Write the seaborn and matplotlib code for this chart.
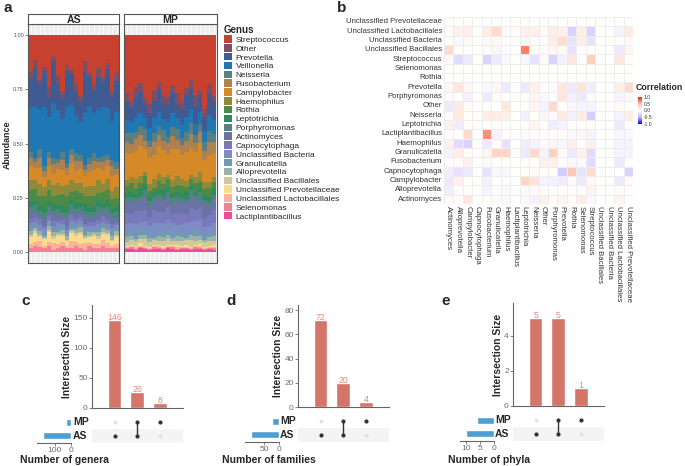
import numpy as np
import pandas as pd
import matplotlib
matplotlib.use("Agg")
import matplotlib.pyplot as plt
import seaborn as sns
from matplotlib.colors import LinearSegmentedColormap
from matplotlib.patches import Patch
from matplotlib.ticker import MultipleLocator

W, H = 685, 466

# ---- panel a: relative abundance per sample (%), 20 AS samples / 20 MP samples ----
genus_order = ["Streptococcus", "Other", "Prevotella", "Veillonella", "Neisseria",
               "Fusobacterium", "Campylobacter", "Haemophilus", "Rothia", "Leptotrichia",
               "Porphyromonas", "Actinomyces", "Capnocytophaga", "Unclassified Bacteria",
               "Granulicatella", "Alloprevotella", "Unclassified Bacillales",
               "Unclassified Prevotellaceae", "Unclassified Lactobacillales",
               "Selenomonas", "Lactiplantibacillus"]
genus_colors = ["#C8402E", "#7B4F66", "#3E5B93", "#1F77B4", "#5B7F7E", "#AE8150",
                "#D68A27", "#8D8B3B", "#4C8B47", "#2F8A5D", "#4F857F", "#6B72A6",
                "#7B79BD", "#7D8DC3", "#6F9AB2", "#98B3A7", "#CFC99C", "#FCDA8E",
                "#F8B39A", "#F28197", "#EC4B98"]

strep_as = [18, 12, 22, 15, 26, 10, 20, 28, 14, 17, 24, 30, 12, 19, 25, 16, 21, 13, 27, 18]
other_as = [3, 4, 2, 3, 5, 2, 4, 3, 3, 2, 4, 3, 5, 2, 3, 4, 2, 3, 3, 4]
prevo_as = [14, 18, 12, 16, 10, 20, 13, 11, 17, 15, 12, 10, 19, 14, 11, 16, 13, 18, 12, 15]
veill_as = [22, 25, 20, 28, 18, 26, 24, 17, 27, 21, 19, 16, 24, 26, 20, 23, 25, 22, 18, 24]
neiss_as = [3, 2, 4, 2, 3, 3, 2, 4, 2, 3, 4, 3, 2, 3, 4, 2, 3, 2, 3, 3]
fuso_as = [4, 3, 5, 3, 4, 4, 3, 5, 3, 4, 5, 4, 3, 4, 4, 3, 4, 3, 5, 3]
campy_as = [7, 6, 8, 5, 7, 6, 7, 8, 5, 8, 6, 7, 5, 7, 8, 6, 7, 6, 7, 6]
haemo_as = [5, 4, 6, 4, 5, 5, 6, 4, 5, 6, 4, 5, 4, 5, 5, 6, 4, 5, 4, 5]
rothia_as = [5, 6, 4, 5, 6, 4, 5, 6, 5, 4, 6, 5, 4, 6, 5, 4, 6, 5, 5, 4]
lepto_as = [3, 2, 3, 3, 2, 3, 2, 3, 3, 2, 3, 2, 3, 2, 3, 3, 2, 3, 2, 3]
porph_as = [3, 3, 2, 3, 3, 2, 3, 2, 3, 3, 2, 3, 3, 2, 3, 3, 2, 3, 2, 3]
actino_as = [3, 3, 2, 3, 2, 3, 3, 2, 3, 2, 3, 2, 3, 3, 2, 3, 2, 3, 3, 2]
capno_as = [2, 2, 3, 1, 2, 2, 1, 2, 2, 3, 2, 2, 1, 2, 2, 2, 3, 2, 2, 1]
ubact_as = [2, 1, 2, 2, 1, 2, 2, 1, 2, 2, 1, 2, 2, 1, 2, 2, 1, 2, 2, 1]
granu_as = [2, 2, 1, 2, 2, 1, 2, 2, 1, 2, 2, 1, 2, 2, 1, 2, 2, 1, 2, 2]
allo_as = [2, 1, 2, 1, 2, 2, 1, 2, 2, 1, 2, 2, 1, 2, 1, 2, 2, 1, 2, 2]
ubacil_as = [1, 1.5, 1, 0.5, 1, 1.5, 1, 1, 0.5, 1, 1.5, 1, 1, 0.5, 1, 1.5, 1, 1, 0.5, 1]
uprev_as = [3, 4, 2, 3, 5, 2, 4, 3, 2, 4, 3, 5, 2, 3, 4, 2, 3, 4, 2, 3]
ulacto_as = [2, 2, 3, 1, 2, 3, 2, 2, 1, 3, 2, 2, 3, 1, 2, 2, 3, 2, 1, 2]
selen_as = [2, 3, 2, 2, 3, 1, 2, 3, 2, 2, 3, 2, 1, 3, 2, 2, 3, 2, 2, 2]
lacti_as = [0.2, 0.1, 0.3, 0.1, 0.2, 0.1, 0.2, 0.3, 0.1, 0.2, 0.1, 0.2, 0.1, 0.3, 0.2, 0.1, 0.2, 0.1, 0.2, 0.1]

strep_mp = [26, 30, 24, 22, 28, 32, 25, 21, 27, 29, 23, 26, 31, 24, 20, 27, 25, 33, 22, 28]
other_mp = [4, 3, 5, 4, 3, 4, 5, 3, 4, 4, 3, 5, 4, 3, 4, 5, 3, 4, 4, 3]
prevo_mp = [8, 7, 9, 10, 6, 7, 8, 11, 7, 8, 9, 6, 7, 10, 9, 8, 7, 6, 10, 8]
veill_mp = [6, 5, 7, 6, 5, 6, 7, 6, 5, 7, 6, 5, 6, 7, 6, 5, 6, 5, 7, 6]
neiss_mp = [4, 5, 3, 4, 5, 3, 4, 4, 5, 3, 4, 5, 3, 4, 5, 4, 3, 4, 5, 4]
fuso_mp = [5, 4, 6, 5, 4, 5, 6, 5, 4, 5, 6, 4, 5, 5, 6, 4, 5, 4, 6, 5]
campy_mp = [12, 11, 13, 14, 10, 12, 11, 13, 12, 10, 14, 12, 11, 13, 12, 11, 13, 10, 12, 11]
haemo_mp = [3, 3, 4, 3, 2, 3, 4, 3, 3, 2, 3, 4, 3, 3, 2, 3, 4, 3, 3, 2]
rothia_mp = [3, 4, 3, 3, 4, 3, 2, 4, 3, 4, 3, 3, 4, 2, 3, 4, 3, 3, 4, 3]
lepto_mp = [2, 2, 2, 3, 2, 2, 2, 2, 3, 2, 2, 2, 2, 3, 2, 2, 2, 2, 2, 3]
porph_mp = [2, 2, 2, 2, 3, 2, 2, 2, 2, 2, 3, 2, 2, 2, 2, 2, 3, 2, 2, 2]
actino_mp = [5, 6, 4, 5, 6, 5, 4, 6, 5, 5, 4, 6, 5, 5, 6, 4, 5, 6, 4, 5]
capno_mp = [5, 4, 6, 5, 5, 4, 6, 5, 5, 6, 4, 5, 5, 4, 6, 5, 5, 4, 5, 6]
ubact_mp = [4, 4, 5, 4, 3, 4, 5, 4, 4, 5, 4, 3, 4, 5, 4, 4, 5, 4, 3, 4]
granu_mp = [2, 2, 2, 2, 3, 2, 2, 2, 2, 2, 3, 2, 2, 2, 2, 3, 2, 2, 2, 2]
allo_mp = [2, 2, 1, 2, 2, 2, 1, 2, 2, 2, 1, 2, 2, 1, 2, 2, 2, 1, 2, 2]
ubacil_mp = [2, 2, 2, 2, 3, 2, 2, 2, 2, 3, 2, 2, 2, 2, 3, 2, 2, 2, 2, 2]
uprev_mp = [0.5, 0.5, 0.5, 1, 0.5, 0.5, 0.5, 0.5, 1, 0.5, 0.5, 0.5, 0.5, 1, 0.5, 0.5, 0.5, 0.5, 0.5, 1]
ulacto_mp = [0.5, 0.5, 1, 0.5, 0.5, 0.5, 0.5, 1, 0.5, 0.5, 0.5, 1, 0.5, 0.5, 0.5, 0.5, 1, 0.5, 0.5, 0.5]
selen_mp = [0.5, 1, 0.5, 0.5, 0.5, 0.5, 1, 0.5, 0.5, 0.5, 1, 0.5, 0.5, 0.5, 0.5, 1, 0.5, 0.5, 0.5, 0.5]
lacti_mp = [1.2, 1.5, 1, 2, 1.3, 1, 1.5, 1.2, 1, 1.8, 1.2, 1, 1.5, 1.3, 1, 1.2, 1.5, 1, 1.3, 1.2]

as_lists = [strep_as, other_as, prevo_as, veill_as, neiss_as, fuso_as, campy_as, haemo_as,
            rothia_as, lepto_as, porph_as, actino_as, capno_as, ubact_as, granu_as, allo_as,
            ubacil_as, uprev_as, ulacto_as, selen_as, lacti_as]
mp_lists = [strep_mp, other_mp, prevo_mp, veill_mp, neiss_mp, fuso_mp, campy_mp, haemo_mp,
            rothia_mp, lepto_mp, porph_mp, actino_mp, capno_mp, ubact_mp, granu_mp, allo_mp,
            ubacil_mp, uprev_mp, ulacto_mp, selen_mp, lacti_mp]

# ---- panel b: correlation matrix (rows / columns alphabetical) ----
heat_genera = ["Actinomyces", "Alloprevotella", "Campylobacter", "Capnocytophaga",
               "Fusobacterium", "Granulicatella", "Haemophilus", "Lactiplantibacillus",
               "Leptotrichia", "Neisseria", "Other", "Porphyromonas", "Prevotella", "Rothia",
               "Selenomonas", "Streptococcus", "Unclassified Bacillales",
               "Unclassified Bacteria", "Unclassified Lactobacillales",
               "Unclassified Prevotellaceae"]
corr_actinomyces = [0.05, 0.02, 0.2, 0, 0.02, 0.05, -0.05, 0, -0.05, -0.1, 0.12, 0.03, 0.1, 0.03, 0.15, -0.05, 0, 0, 0.1, 0.03]
corr_alloprevotella = [-0.12, 0.02, 0.02, 0, -0.08, 0.02, -0.05, 0, 0.05, 0.05, 0.02, 0.02, 0.03, 0.02, 0.02, 0.1, 0, 0, 0.02, 0.02]
corr_campylobacter = [-0.15, 0.12, 0, 0, -0.1, 0, 0.02, 0, 0.35, 0.22, -0.08, -0.1, -0.12, -0.03, -0.15, 0.05, 0, 0, -0.15, 0.05]
corr_capnocytophaga = [-0.12, -0.2, -0.15, 0, -0.2, -0.05, -0.05, 0, 0.03, 0.02, 0.02, 0, -0.35, 0.45, -0.2, 0.3, 0, 0, 0, -0.3]
corr_fusobacterium = [0.02, 0.03, 0.12, 0, 0.05, 0.03, 0.03, 0, 0.02, 0.02, 0.12, 0.12, 0.02, -0.05, -0.05, -0.25, 0, 0, -0.15, 0.02]
corr_granulicatella = [-0.08, 0.15, 0.03, 0, 0.08, 0.35, 0.35, 0, -0.15, 0.3, -0.08, 0.4, 0.05, -0.15, 0.12, -0.25, 0, 0, -0.08, -0.08]
corr_haemophilus = [0.12, -0.25, -0.3, 0, -0.15, 0.02, -0.2, 0, -0.12, -0.08, 0.03, 0.08, -0.05, 0.12, 0.02, 0.12, 0, 0, -0.08, -0.08]
corr_lactiplantibacillus = [0.03, 0.02, 0.3, 0, 0.65, -0.08, 0.03, 0, 0.05, 0.02, 0.02, 0.03, 0.03, -0.05, 0.08, -0.08, 0, 0, -0.05, -0.05]
corr_leptotrichia = [0.12, -0.12, 0.03, 0, 0.02, 0.02, 0.02, 0, 0.03, 0.08, 0.03, -0.12, -0.08, 0.03, 0.02, 0.03, 0, 0, -0.15, 0.02]
corr_neisseria = [0.03, 0.18, 0.03, 0, 0.15, 0.15, 0.12, 0, -0.1, 0, 0.08, 0.03, 0.18, -0.1, 0.15, -0.35, 0, 0, -0.08, 0.15]
corr_other = [-0.15, 0.18, 0.05, 0, 0.03, 0, 0.2, 0, 0.03, 0.08, -0.08, 0.3, 0.02, -0.05, -0.08, -0.08, 0, 0, 0.05, 0.02]
corr_porphyromonas = [0.02, 0.02, -0.1, 0, -0.15, 0.05, 0.02, 0, 0.03, 0.08, -0.05, 0.02, 0.2, -0.1, -0.15, 0.05, 0, 0, -0.08, 0.05]
corr_prevotella = [0.08, 0.2, 0.08, 0, -0.05, 0.08, -0.15, 0, -0.15, 0.12, 0.03, -0.03, 0.2, -0.15, 0.22, -0.12, 0, 0, 0.15, 0.3]
corr_rothia = [0] * 20
corr_selenomonas = [0] * 20
corr_streptococcus = [0.05, -0.25, -0.15, 0, -0.3, -0.15, -0.05, 0, -0.05, -0.2, 0.05, -0.3, -0.1, 0.2, 0.02, 0.4, 0, 0, 0.2, 0.03]
corr_ubacillales = [0.3, 0.03, 0, 0, 0.02, 0.08, -0.03, 0, 0.7, 0.02, 0.03, 0.08, 0.05, -0.2, 0.03, 0.02, 0, 0, -0.15, 0.08]
corr_ubacteria = [0.03, -0.05, 0.05, 0, 0.05, 0.05, 0.02, 0, 0.08, 0.03, 0.03, 0.15, 0.28, -0.2, 0.15, -0.2, 0, 0, 0.03, 0.05]
corr_ulactobacillales = [0.02, 0.12, 0.12, 0, 0.15, 0.3, 0.05, 0, 0.12, 0.12, 0.05, 0.15, 0.12, -0.3, 0.15, -0.3, 0, 0, -0.08, 0.18]
corr_uprevotellaceae = [0] * 20

# ---- panels c-e: upset intersections (AS only, AS & MP, MP only) ----
combo_names = ["AS", "AS&MP", "MP"]
as_member = [1, 1, 0]
mp_member = [0, 1, 1]
set_names = ["MP", "AS"]
genera_inter = [146, 26, 8]
genera_sets = [34, 172]
families_inter = [72, 20, 4]
families_sets = [24, 92]
phyla_inter = [5, 5, 1]
phyla_sets = [6, 10]

sns.set_theme(style="white")
plt.rcParams["font.family"] = ["Liberation Sans", "DejaVu Sans"]

fig = plt.figure(figsize=(W / 100, H / 100), dpi=100)


def px_axes(x0, y0, x1, y1):
    return fig.add_axes([x0 / W, 1 - y1 / H, (x1 - x0) / W, (y1 - y0) / H])


def px_text(x, y, s, **kw):
    fig.text(x / W, 1 - y / H, s, **kw)


# ---------------- panel a ----------------
frames = []
for group, lists in [("AS", as_lists), ("MP", mp_lists)]:
    wide = pd.DataFrame(dict(zip(genus_order, lists)))
    wide = wide.div(wide.sum(axis=1), axis=0)
    wide["sample"] = range(len(wide))
    long = wide.melt(id_vars="sample", var_name="genus", value_name="abundance")
    long["group"] = group
    frames.append(long)
abund = pd.concat(frames, ignore_index=True)

for i, (group, x0, x1) in enumerate([("AS", 28, 119.3), ("MP", 124, 216.7)]):
    ax = px_axes(x0, 24.3, x1, 263)
    sub = abund[abund["group"] == group]
    n = sub["sample"].nunique()
    sns.histplot(data=sub, x="sample", weights="abundance", hue="genus",
                 hue_order=genus_order, palette=genus_colors, multiple="stack",
                 discrete=True, shrink=1, linewidth=0, alpha=1, legend=False, ax=ax)
    ax.set_facecolor("#EEEEEE")
    ax.set_xlim(-0.6, n - 0.4)
    ax.set_ylim(-0.05, 1.05)
    ax.set_xticks(range(n))
    ax.grid(axis="x", color="white", lw=0.6)
    ax.set_axisbelow(True)
    ax.tick_params(axis="x", length=0, labelbottom=False)
    ax.set_xlabel("")
    ax.set_ylabel("")
    for sp in ax.spines.values():
        sp.set_color("#555555")
        sp.set_linewidth(0.8)
    if i == 0:
        ax.set_yticks([0, 0.25, 0.5, 0.75, 1.0])
        ax.set_yticklabels(["0.00", "0.25", "0.50", "0.75", "1.00"])
        ax.tick_params(axis="y", labelsize=3.9, labelcolor="#4D4D4D", color="#555555",
                       length=2, width=0.5, pad=1, left=True)
    else:
        ax.tick_params(axis="y", left=False, labelleft=False)
    strip = px_axes(x0, 14, x1, 24.3)
    strip.set_facecolor("white")
    strip.set_xticks([])
    strip.set_yticks([])
    for sp in strip.spines.values():
        sp.set_color("#555555")
        sp.set_linewidth(0.8)
    strip.text(0.5, 0.45, group, ha="center", va="center", fontsize=7.6,
               fontweight="bold", transform=strip.transAxes)

px_text(7, 145, "Abundance", rotation=90, ha="center", va="center", fontsize=6.4,
        fontweight="bold")
handles = [Patch(facecolor=c, edgecolor="none") for c in genus_colors]
fig.legend(handles, genus_order, loc="upper left", bbox_to_anchor=(224 / W, 1 - 25 / H),
           frameon=False, title="Genus", fontsize=6,
           title_fontproperties={"weight": "bold", "size": 7}, alignment="left",
           handlelength=1.0, handleheight=1.0, handletextpad=0.4, labelspacing=0.03,
           borderpad=0, borderaxespad=0)

# ---------------- panel b ----------------
corr_rows = [corr_actinomyces, corr_alloprevotella, corr_campylobacter, corr_capnocytophaga,
             corr_fusobacterium, corr_granulicatella, corr_haemophilus,
             corr_lactiplantibacillus, corr_leptotrichia, corr_neisseria, corr_other,
             corr_porphyromonas, corr_prevotella, corr_rothia, corr_selenomonas,
             corr_streptococcus, corr_ubacillales, corr_ubacteria, corr_ulactobacillales,
             corr_uprevotellaceae]
corr = pd.DataFrame(corr_rows, index=heat_genera, columns=heat_genera)
cmap = LinearSegmentedColormap.from_list(
    "corr", [(0, "#0000FF"), (0.25, "#C4B6FF"), (0.5, "#FFFFFF"), (0.75, "#FFC3AE"), (1, "#FF1A00")])
axh = px_axes(444, 17, 633, 204)
cax = px_axes(638, 97, 642, 124)
sns.heatmap(corr.iloc[::-1], ax=axh, cbar_ax=cax, cmap=cmap, vmin=-1, vmax=1,
            linewidths=0.4, linecolor="#EDEDED")
axh.set_xticks(np.arange(len(heat_genera)) + 0.5)
axh.set_xticklabels(heat_genera, rotation=270, ha="center", va="top", fontsize=5.6,
                    color="#333333")
axh.set_yticks(np.arange(len(heat_genera)) + 0.5)
axh.set_yticklabels(heat_genera[::-1], rotation=0, fontsize=5.6, color="#333333")
axh.tick_params(length=0, pad=1.5)
axh.set_xlabel("")
axh.set_ylabel("")
cax.set_yticks([-1, -0.5, 0, 0.5, 1])
cax.set_yticklabels(["-1.0", "-0.5", "0.0", "0.5", "1.0"])
cax.tick_params(labelsize=3.6, length=0, pad=1, labelcolor="#333333")
for sp in cax.spines.values():
    sp.set_visible(False)
px_text(636, 88, "Correlation", ha="left", va="center", fontsize=6.3, fontweight="bold")

# ---------------- panels c, d, e ----------------
bar_color = "#D4756A"
label_color = "#E3897D"
set_color = "#4E9ED4"


def draw_upset(inter, sizes, x_bar, y_top, y_zero, x_set, ystep, set_ticks, name_x,
               xlabel, xlabel_x, letter, letter_x):
    axb = px_axes(x_bar, y_top, x_bar + 90.5, y_zero)
    sns.barplot(x=combo_names, y=inter, color=bar_color, width=0.6, saturation=1, ax=axb)
    axb.set_xlim(-1, 3)
    axb.set_ylim(0, max(inter) * 1.17)
    axb.yaxis.set_major_locator(MultipleLocator(ystep))
    axb.tick_params(axis="x", bottom=False, labelbottom=False)
    axb.tick_params(axis="y", left=True, labelsize=6, labelcolor="#6B6B6B", color="#555555",
                    length=2, width=0.5, pad=1)
    for side in ["top", "right"]:
        axb.spines[side].set_visible(False)
    for side in ["left", "bottom"]:
        axb.spines[side].set_color("#666666")
        axb.spines[side].set_linewidth(0.8)
    axb.set_ylabel("Intersection Size", fontsize=7.4, fontweight="bold", labelpad=1)
    axb.bar_label(axb.containers[0], color=label_color, fontsize=6.3, padding=-1.5)

    m_top, m_bot = y_zero + 7.5, y_zero + 34.5
    axm = px_axes(x_bar, m_top, x_bar + 90.5, m_bot)
    axm.axhspan(-0.5, 0.5, color="#F4F4F4", lw=0)
    dots = pd.DataFrame({
        "combo": list(range(3)) * 2,
        "row": [1] * 3 + [0] * 3,
        "on": [bool(v) for v in mp_member + as_member],
    })
    sns.scatterplot(data=dots[~dots["on"]], x="combo", y="row", color="#E2E2E2", s=8,
                    linewidth=0, ax=axm, legend=False)
    for c in range(3):
        rows = [r for r, m in ((1, mp_member[c]), (0, as_member[c])) if m]
        if len(rows) > 1:
            axm.plot([c, c], [min(rows), max(rows)], color="#333333", lw=1)
    sns.scatterplot(data=dots[dots["on"]], x="combo", y="row", color="#333333", s=9,
                    linewidth=0, ax=axm, legend=False, zorder=3)
    axm.set_xlim(-1, 3)
    axm.set_ylim(-0.5, 1.5)
    axm.axis("off")

    axs = px_axes(x_set, m_top, x_set + 34, m_bot)
    sns.barplot(x=sizes, y=set_names, orient="h", color=set_color, width=0.5,
                saturation=1, ax=axs)
    axs.set_xlim(max(sizes) * 1.23, 0)
    axs.set_ylim(1.5, -0.5)
    axs.set_xticks(set_ticks)
    axs.tick_params(axis="y", left=False, labelleft=False)
    axs.tick_params(axis="x", bottom=True, labelsize=6, labelcolor="#6B6B6B",
                    color="#555555", length=2, width=0.5, pad=1)
    for side in ["top", "right", "left"]:
        axs.spines[side].set_visible(False)
    axs.spines["bottom"].set_color("#666666")
    axs.spines["bottom"].set_linewidth(0.8)
    axs.set_xlabel("")
    axs.set_ylabel("")

    row_h = (m_bot - m_top) / 4
    px_text(name_x, m_top + row_h, set_names[0], ha="left", va="center", fontsize=7.5,
            fontweight="bold")
    px_text(name_x, m_top + 3 * row_h, set_names[1], ha="left", va="center", fontsize=7.5,
            fontweight="bold")
    px_text(xlabel_x, 460, xlabel, ha="left", va="center", fontsize=7.5, fontweight="bold")
    px_text(letter_x, 301, letter, ha="left", va="center", fontsize=11, fontweight="bold")


draw_upset(genera_inter, genera_sets, 92, 305, 408, 37, 50, [100, 0], 73,
           "Number of genera", 20, "c", 21)
draw_upset(families_inter, families_sets, 298, 305, 407, 245, 20, [50, 0], 280,
           "Number of families", 222, "d", 226)
draw_upset(phyla_inter, phyla_sets, 513, 303, 406, 460, 2, [10, 5, 0], 495,
           "Number of phyla", 448, "e", 441)

px_text(3, 8, "a", ha="left", va="center", fontsize=11, fontweight="bold")
px_text(337, 8, "b", ha="left", va="center", fontsize=11, fontweight="bold")

fig.savefig("out.png", dpi=100)
